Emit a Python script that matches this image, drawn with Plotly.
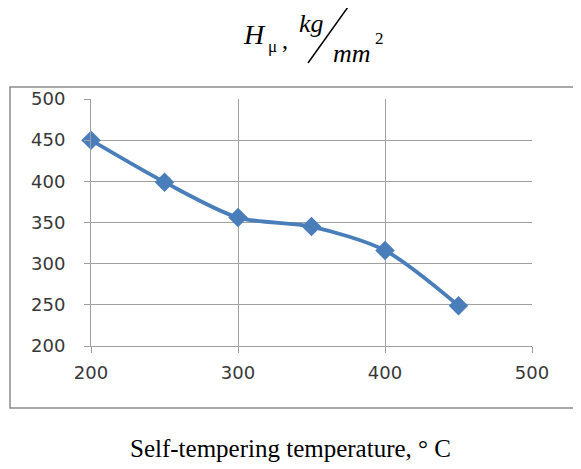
import plotly.graph_objects as go

temperature = [200, 250, 300, 350, 400, 450]
hardness = [450, 399, 356, 345, 316, 249]
x_ticks = [200, 300, 400, 500]
y_ticks = [200, 250, 300, 350, 400, 450, 500]

W, H = 581, 469
OFF = 8  # default page body margin
L, R, T, B = 91, 532, 99, 346


def px(x):
    return (x - L) / (R - L)


def py(y):
    return (B - y) / (B - T)


fig = go.Figure()
fig.add_trace(go.Scatter(
    x=temperature, y=hardness, mode="lines+markers",
    line=dict(color="#4A7EBB", width=3.8, shape="spline", smoothing=0.8),
    marker=dict(symbol="diamond", size=15, color="#4A7EBB"),
    showlegend=False, cliponaxis=False,
))

axis_common = dict(
    showgrid=True, gridcolor="#A0A0A0", gridwidth=1,
    showline=True, linecolor="#A0A0A0", linewidth=1,
    ticks="outside", ticklen=6, tickcolor="#A0A0A0",
    tickfont=dict(family="DejaVu Sans", size=18, color="#383838"),
    zeroline=False, mirror=False,
)
fig.update_xaxes(range=[200, 500], tickvals=x_ticks, ticklabelstandoff=4, **axis_common)
fig.update_yaxes(range=[200, 500], tickvals=y_ticks, ticklabelstandoff=15, **axis_common)

serif = "Liberation Serif"
ann = [
    ("<i>H</i>", 254, 34, 28),
    ("μ", 272, 46, 17),
    (",", 285, 40, 24),
    ("<i>kg</i>", 311, 23, 26),
    ("<i>mm</i>", 352, 54, 26),
    ("2", 379, 38, 17),
    ("Self-tempering temperature, ° C", 290, 448, 25),
]
for text, x, y, s in ann:
    fig.add_annotation(text=text, x=px(x), y=py(y), xref="paper", yref="paper",
                       showarrow=False, xanchor="center", yanchor="middle",
                       font=dict(family=serif, size=s, color="black"))

fig.add_shape(type="line", xref="paper", yref="paper",
              x0=px(308), y0=py(63), x1=px(348), y1=py(7),
              line=dict(color="black", width=1.5))
# outer chart frame
fig.add_shape(type="rect", xref="paper", yref="paper",
              x0=px(10), y0=py(408), x1=px(590), y1=py(87),
              line=dict(color="#8C8C8C", width=1.5), layer="below")

fig.update_layout(
    width=W - OFF, height=H - OFF,
    margin=dict(l=L - OFF, r=W - R, t=T - OFF, b=H - B),
    paper_bgcolor="white", plot_bgcolor="white",
)
fig.write_html("out.html")
